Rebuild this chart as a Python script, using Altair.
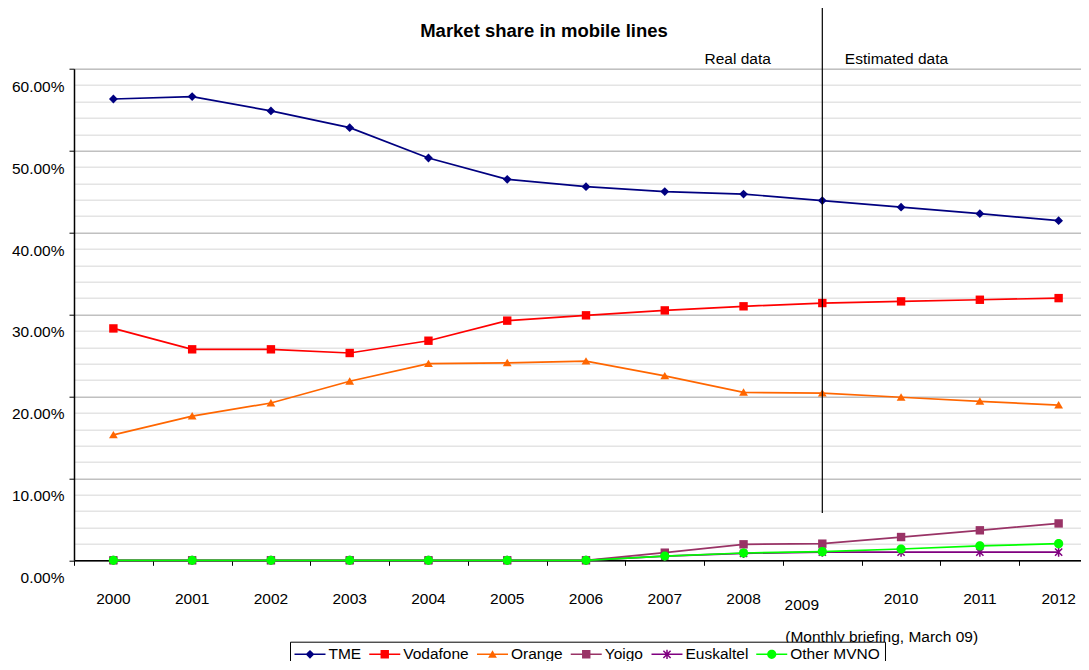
import altair as alt
import pandas as pd

# ---------------- data ----------------
years = list(range(2000, 2013))
series = ["TME", "Vodafone", "Orange", "Yoigo", "Euskaltel", "Other MVNO"]
tme = [56.3, 56.6, 54.85, 52.8, 49.1, 46.5, 45.6, 45.0, 44.7, 43.9, 43.1, 42.3, 41.45]
vodafone = [28.3, 25.75, 25.75, 25.3, 26.8, 29.25, 29.9, 30.5, 31.0, 31.4, 31.6, 31.8, 32.0]
orange = [15.3, 17.6, 19.2, 21.85, 24.0, 24.1, 24.3, 22.5, 20.5, 20.4, 19.9, 19.4, 18.95]
yoigo = [0, 0, 0, 0, 0, 0, 0, 0.93, 1.95, 2.03, 2.84, 3.66, 4.5]
euskaltel = [0, 0, 0, 0, 0, 0, 0, 0.52, 0.85, 1.0, 1.0, 1.0, 1.0]
other_mvno = [0, 0, 0, 0, 0, 0, 0, 0.52, 0.89, 1.05, 1.38, 1.75, 2.03]
values = [tme, vodafone, orange, yoigo, euskaltel, other_mvno]

colors = ["#000080", "#FF0000", "#FF6600", "#993366", "#800080", "#00FF00"]

estimate_start = 2009
divider_top = 0.674
divider_bottom = 0.0577
title_text = "Market share in mobile lines"
real_label = "Real data"
estimated_label = "Estimated data"
source_note = "(Monthly briefing, March 09)"

rows = []
for name, vals in zip(series, values):
    for yr, v in zip(years, vals):
        rows.append({"year": yr, "series": name, "share": v / 100.0})
df = pd.DataFrame(rows)
year_df = pd.DataFrame({"year": years, "label": [str(y) for y in years]})
divider_df = pd.DataFrame({"year": [estimate_start], "top": [divider_top], "bottom": [divider_bottom]})

# ---------------- marker shapes (unit coordinates) ----------------
t = 0.19
diamond = "M0,-1.1L1.1,0L0,1.1L-1.1,0Z"
square = "M-1.05,-1.05L1.05,-1.05L1.05,1.05L-1.05,1.05Z"
triangle = "M0,-1L1.1,0.85L-1.1,0.85Z"
circle = "M-1.15,0A1.15,1.15,0,1,1,1.15,0A1.15,1.15,0,1,1,-1.15,0Z"
asterisk = (
    "M-0.766,-1.034L1.034,0.766L0.766,1.034L-1.034,-0.766Z"
    "M-1.034,0.766L0.766,-1.034L1.034,-0.766L-0.766,1.034Z"
    f"M-{t},-1.15L{t},-1.15L{t},1.15L-{t},1.15Z"
)
marker_shapes = [diamond, square, triangle, square, asterisk, circle]
L = 3.875
line_seg = f"M-{L},-{t}L{L},-{t}L{L},{t}L-{L},{t}Z"
legend_shapes = [line_seg + m for m in marker_shapes]

FONT = "Liberation Sans"
FS = 15.5
W = 1007
H = 491.6

x_scale = alt.Scale(domain=[1999.5, 1999.5 + W / 78.77], nice=False, zero=False)
y_scale = alt.Scale(domain=[0, 0.6], nice=False, zero=True)

x_axis = alt.Axis(
    values=[y + 0.5 for y in range(1999, 2012)],
    labels=False, grid=False, ticks=True, tickSize=5, tickColor="black",
    tickWidth=1, domainColor="black", domainWidth=1.5, title=None,
)
major = "abs(round(datum.value * 100)) % 10 == 0"
y_axis = alt.Axis(
    values=[i / 50 for i in range(31)],
    labelExpr=f"{major} ? format(datum.value, '.2%') : ''",
    labelOverlap=False,
    grid=True,
    gridColor={"condition": {"test": major, "value": "#c0c0c0"}, "value": "#e4e4e4"},
    gridWidth=1.5,
    tickOpacity={"condition": {"test": major, "value": 1}, "value": 0},
    tickSize=5, tickColor="black", tickWidth=1,
    domainColor="black", domainWidth=1.5,
    labelOffset=22.5, labelBaseline="alphabetic", labelPadding=5,
    labelFont=FONT, labelFontSize=FS, labelColor="black",
    title=None,
)

X = alt.X("year:Q", scale=x_scale, axis=x_axis)


def Y(field):
    return alt.Y(field, scale=y_scale, axis=y_axis)


color_scale = alt.Scale(domain=series, range=colors)

lines = alt.Chart(df).mark_line(strokeWidth=1.7).encode(
    x=X, y=Y("share:Q"),
    color=alt.Color("series:N", scale=color_scale, legend=None),
)

points = alt.Chart(df).mark_point(filled=True, size=64, opacity=1, strokeWidth=0).encode(
    x=X, y=Y("share:Q"),
    color=alt.Color("series:N", scale=color_scale, legend=None),
    shape=alt.Shape("series:N", scale=alt.Scale(domain=series, range=marker_shapes), legend=None),
)

legend = alt.Legend(
    title=None, orient="none", legendX=216, legendY=573, direction="horizontal",
    columns=6, labelFont=FONT, labelFontSize=FS, labelColor="black",
    labelOffset=10.75, columnPadding=7.75, padding=4.5, symbolOffset=7.75,
    strokeColor="black", fillColor="white",
    symbolSize=64, symbolStrokeWidth=0, symbolOpacity=1,
)

legend_layer = alt.Chart(df).transform_filter("datum.share < 0").mark_point(
    filled=True, size=64, opacity=1, strokeWidth=0
).encode(
    color=alt.Color("series:N", scale=alt.Scale(domain=series, range=colors), legend=legend),
    shape=alt.Shape("series:N", scale=alt.Scale(domain=series, range=legend_shapes), legend=legend),
)

divider = alt.Chart(divider_df).mark_rule(color="black", strokeWidth=1.2).encode(
    x=X, y=Y("top:Q"), y2="bottom:Q",
)

real_text = alt.Chart(divider_df).mark_text(
    align="right", baseline="alphabetic", dx=-51.5, font=FONT, fontSize=FS, color="black"
).encode(x=X, y=alt.value(-4.7), text=alt.value(real_label))

est_text = alt.Chart(divider_df).mark_text(
    align="left", baseline="alphabetic", dx=22.5, font=FONT, fontSize=FS, color="black"
).encode(x=X, y=alt.value(-4.7), text=alt.value(estimated_label))

note_text = alt.Chart(divider_df).mark_text(
    align="left", baseline="alphabetic", dx=-37, font=FONT, fontSize=FS, color="black"
).encode(x=X, y=alt.value(573.3), text=alt.value(source_note))

year_labels = alt.Chart(year_df).transform_filter(f"datum.year != {estimate_start}").mark_text(
    align="center", baseline="alphabetic", font=FONT, fontSize=FS, color="black"
).encode(x=X, y=alt.value(535.6), text="label:N")

year_label_shifted = alt.Chart(year_df).transform_filter(f"datum.year == {estimate_start}").mark_text(
    align="center", baseline="alphabetic", dx=-20.5, font=FONT, fontSize=FS, color="black"
).encode(x=X, y=alt.value(541.5), text="label:N")

chart = alt.layer(
    lines, points, legend_layer, divider, real_text, est_text, note_text,
    year_labels, year_label_shifted,
).resolve_scale(
    color="independent", shape="independent",
).properties(
    width=W, height=H,
    autosize=alt.AutoSizeParams(type="none"),
    padding={"left": 66, "top": 60.7, "right": 0, "bottom": 101},
    title=alt.TitleParams(
        title_text, font=FONT, fontSize=18.5, fontWeight="bold", color="black",
        anchor="middle", frame="group", dx=-33.5, offset=-48.1, baseline="alphabetic",
    ),
).configure_view(stroke=None).configure(font=FONT, background="white")

chart.save("out.html", embed_options={"renderer": "svg", "actions": False})
